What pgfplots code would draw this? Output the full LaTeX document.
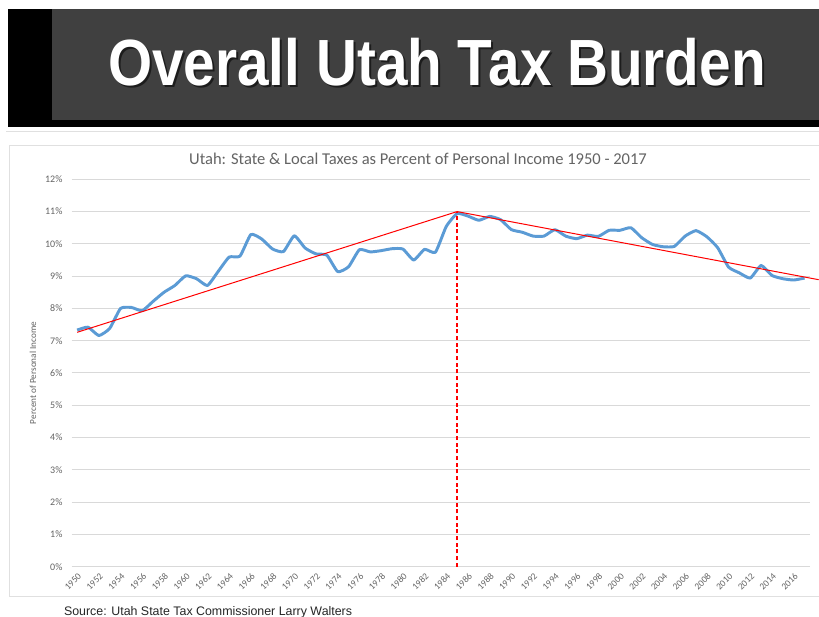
\documentclass[border=0pt]{standalone}
\usepackage{pgfplots}
\pgfplotsset{compat=1.18}
\usepackage{fontspec}
\setmainfont{Carlito}
\newfontfamily\arial{Liberation Sans}
\definecolor{xlblue}{RGB}{91,155,213}
\definecolor{xlgrid}{RGB}{217,217,217}
\definecolor{xltext}{RGB}{100,100,100}
\definecolor{band}{RGB}{64,64,64}
\definecolor{trendred}{RGB}{255,0,0}
\begin{document}
\begin{tikzpicture}
\useasboundingbox (0,0) rectangle (614.25pt,462.75pt);
\fill[white] (0,0) rectangle (614.25pt,462.75pt);
\fill[black] (6pt,367.5pt) rectangle (614.25pt,456pt);
\fill[band] (39pt,372.75pt) rectangle (614.25pt,456pt);
\node[anchor=base, text=black, opacity=0.55, font=\arial\bfseries\fontsize{49}{55}\selectfont, xscale=0.868] at (329.25pt,396.75pt) {Overall Utah Tax Burden};
\node[anchor=base, text=white, font=\arial\bfseries\fontsize{49}{55}\selectfont, xscale=0.868] at (327.75pt,398.25pt) {Overall Utah Tax Burden};
\draw[black!12, line width=1pt] (4.5pt,364pt) -- (614.25pt,364pt);
\draw[black!12, line width=0.75pt] (7pt,15pt) rectangle (630pt,353.25pt);
\node[anchor=base, font=\fontsize{12.4}{14}\selectfont, text=xltext] at (313.5pt,339pt) {Utah: State \& Local Taxes as Percent of Personal Income 1950 - 2017};
\node[anchor=base west, font=\arial\fontsize{9.3}{11}\selectfont, text=black!85] at (44.5pt,1pt) {Source: Utah State Tax Commissioner Larry Walters};
\begin{axis}[
  at={(53.775pt,37.725pt)}, anchor=south west,
  width=553.725pt, height=290.55pt, scale only axis,
  xmin=-0.5, xmax=67.5, ymin=0, ymax=12,
  axis line style={draw=none},
  ytick={0,1,...,12},
  yticklabels={0\%,1\%,2\%,3\%,4\%,5\%,6\%,7\%,8\%,9\%,10\%,11\%,12\%},
  xtick={0,2,...,66},
  xticklabels={1950,1952,1954,1956,1958,1960,1962,1964,1966,1968,1970,1972,1974,1976,1978,1980,1982,1984,1986,1988,1990,1992,1994,1996,1998,2000,2002,2004,2006,2008,2010,2012,2014,2016},
  major tick length=0pt,
  ymajorgrids, grid style={xlgrid, line width=0.75pt},
  yticklabel style={font=\fontsize{7.5}{9}\selectfont, text=xltext, anchor=east, inner sep=0pt, xshift=-6.75pt},
  xticklabel style={font=\fontsize{7}{8}\selectfont, text=xltext, xshift=2pt, yshift=-6pt, rotate=45, anchor=east, inner sep=0pt},
  ylabel={Percent of Personal Income},
  ylabel style={font=\fontsize{6.9}{8}\selectfont, text=xltext, at={(axis description cs:-0.0524,0.5)}, anchor=center},
  clip=false,
]
\addplot[xlblue, line width=2.2pt, smooth, tension=0.3, line join=round] table {
x y
0 7.33
1 7.42
2 7.16
3 7.38
4 8.00
5 8.03
6 7.93
7 8.22
8 8.50
9 8.71
10 9.01
11 8.92
12 8.71
13 9.15
14 9.59
15 9.62
16 10.29
17 10.15
18 9.84
19 9.76
20 10.25
21 9.87
22 9.69
23 9.65
24 9.14
25 9.29
26 9.82
27 9.75
28 9.79
29 9.85
30 9.84
31 9.50
32 9.83
33 9.74
34 10.54
35 10.94
36 10.86
37 10.73
38 10.85
39 10.75
40 10.44
41 10.36
42 10.24
43 10.24
44 10.44
45 10.24
46 10.16
47 10.27
48 10.23
49 10.42
50 10.42
51 10.50
52 10.19
53 9.98
54 9.91
55 9.92
56 10.24
57 10.41
58 10.22
59 9.88
60 9.28
61 9.10
62 8.94
63 9.33
64 9.02
65 8.92
66 8.88
67 8.94
};
\addplot[trendred, line width=0.75pt] coordinates {(0,7.26) (35,11.0) (68.3,8.89)};
\addplot[trendred, line width=1pt, densely dashed] coordinates {(35,0) (35,11.0)};
\end{axis}
\end{tikzpicture}
\end{document}
